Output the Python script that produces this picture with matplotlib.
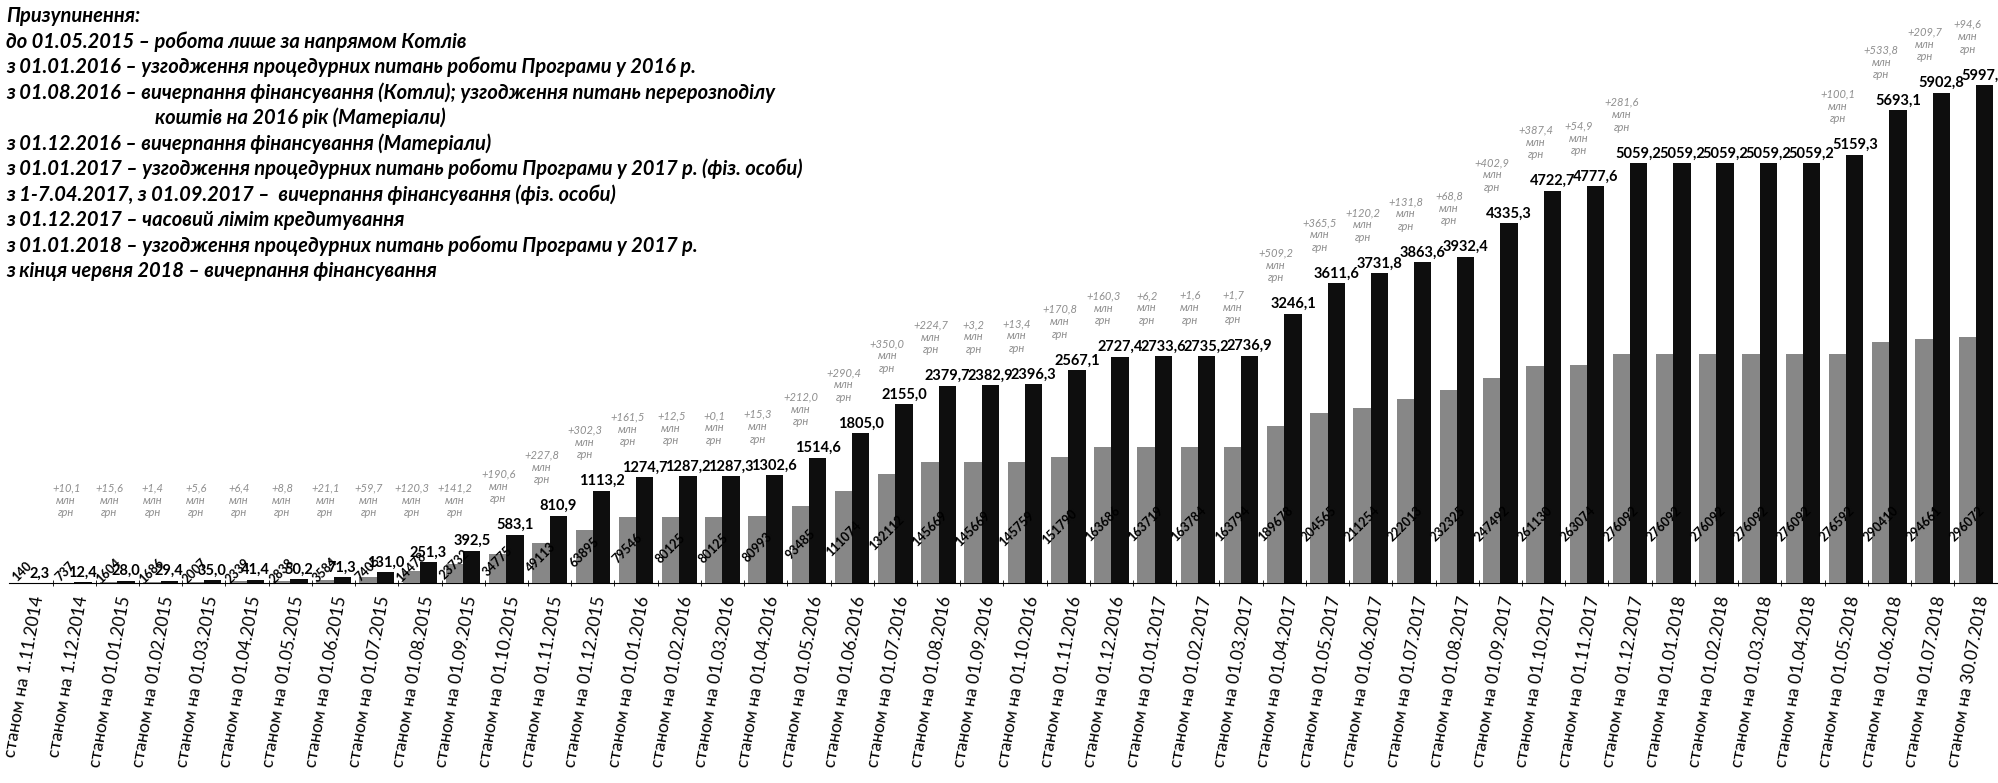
import matplotlib.pyplot as plt
import numpy as np

plt.rcParams['font.family'] = ['Lato', 'DejaVu Sans']

dates = [
    'станом на 1.11.2014', 'станом на 1.12.2014', 'станом на 01.01.2015',
    'станом на 01.02.2015', 'станом на 01.03.2015', 'станом на 01.04.2015',
    'станом на 01.05.2015', 'станом на 01.06.2015', 'станом на 01.07.2015',
    'станом на 01.08.2015', 'станом на 01.09.2015', 'станом на 01.10.2015',
    'станом на 01.11.2015', 'станом на 01.12.2015', 'станом на 01.01.2016',
    'станом на 01.02.2016', 'станом на 01.03.2016', 'станом на 01.04.2016',
    'станом на 01.05.2016', 'станом на 01.06.2016', 'станом на 01.07.2016',
    'станом на 01.08.2016', 'станом на 01.09.2016', 'станом на 01.10.2016',
    'станом на 01.11.2016', 'станом на 01.12.2016', 'станом на 01.01.2017',
    'станом на 01.02.2017', 'станом на 01.03.2017', 'станом на 01.04.2017',
    'станом на 01.05.2017', 'станом на 01.06.2017', 'станом на 01.07.2017',
    'станом на 01.08.2017', 'станом на 01.09.2017', 'станом на 01.10.2017',
    'станом на 01.11.2017', 'станом на 01.12.2017', 'станом на 01.01.2018',
    'станом на 01.02.2018', 'станом на 01.03.2018', 'станом на 01.04.2018',
    'станом на 01.05.2018', 'станом на 01.06.2018', 'станом на 01.07.2018',
    'станом на 30.07.2018',
]

# сума, млн грн (чорні стовпці)
amount = [
    2.3, 12.4, 28.0, 29.4, 35.0, 41.4, 50.2, 71.3, 131.0, 251.3,
    392.5, 583.1, 810.9, 1113.2, 1274.7, 1287.2, 1287.3, 1302.6, 1514.6, 1805.0,
    2155.0, 2379.7, 2382.9, 2396.3, 2567.1, 2727.4, 2733.6, 2735.2, 2736.9, 3246.1,
    3611.6, 3731.8, 3863.6, 3932.4, 4335.3, 4722.7, 4777.6, 5059.2, 5059.2, 5059.2,
    5059.2, 5059.2, 5159.3, 5693.1, 5902.8, 5997.4,
]

# кількість (сірі стовпці)
count = [
    140, 737, 1604, 1686, 2007, 2339, 2838, 3584, 7405, 14478,
    23732, 34775, 49113, 63895, 79546, 80125, 80125, 80993, 93485, 111074,
    132112, 145669, 145669, 145759, 151790, 163686, 163719, 163784, 163794, 189678,
    204565, 211254, 222013, 232325, 247492, 261130, 263074, 276092, 276092, 276092,
    276092, 276092, 276592, 290410, 294661, 296072,
]

notes = [
    'Призупинення:',
    'до 01.05.2015 – робота лише за напрямом Котлів',
    'з 01.01.2016 – узгодження процедурних питань роботи Програми у 2016 р.',
    'з 01.08.2016 – вичерпання фінансування (Котли); узгодження питань перерозподілу',
    'коштів на 2016 рік (Матеріали)',
    'з 01.12.2016 – вичерпання фінансування (Матеріали)',
    'з 01.01.2017 – узгодження процедурних питань роботи Програми у 2017 р. (фіз. особи)',
    'з 1-7.04.2017, з 01.09.2017 –  вичерпання фінансування (фіз. особи)',
    'з 01.12.2017 – часовий ліміт кредитування',
    'з 01.01.2018 – узгодження процедурних питань роботи Програми у 2017 р.',
    'з кінця червня 2018 – вичерпання фінансування',
]


def fmt(v):
    return f'{v:.1f}'.replace('.', ',')


W, H = 1998, 783
fig = plt.figure(figsize=(W / 100, H / 100), dpi=100)
ax_h = 0.732
ax = fig.add_axes([0.0047, 0.255, 0.995, ax_h])
ax2 = ax.twinx()

x = np.arange(len(dates))
w = 0.4
ymax = 6900
ratio = 100
ax.set_ylim(0, ymax)
ax2.set_ylim(0, ymax * ratio)
ax.set_xlim(-0.5, len(dates) - 0.5)

ax2.bar(x - w / 2, count, w, color='#878787')
ax.bar(x + w / 2, amount, w, color='#0e0e0e')

for i, v in enumerate(amount):
    ax.annotate(fmt(v), (i + w / 2, v), xytext=(0, 2), textcoords='offset points',
                ha='center', va='bottom', fontsize=10.5, fontweight='bold')

# приріст за місяць
diffs = np.diff(amount)
for i, d in enumerate(diffs, start=1):
    if d > 0.05:
        ax.annotate('+' + fmt(d) + '\nмлн\nгрн', (i + w / 2, max(amount[i], 420)),
                    xytext=(-12, 22), textcoords='offset points',
                    ha='center', va='bottom', fontsize=8, style='italic',
                    color='#8f8f8f', linespacing=1.15)

# висота сірого стовпця в пікселях -> положення підпису
px_per_unit = ax_h * H / (ymax * ratio)
for i, c in enumerate(count):
    off = min(0.35 * c * px_per_unit + 12, 60) / 1.389
    ax2.annotate(str(c), (i - w / 2, 0), xytext=(0, off), textcoords='offset points',
                 rotation=45, ha='center', va='center',
                 fontsize=9, fontweight='bold')

for a in (ax, ax2):
    for s in ('top', 'right', 'left'):
        a.spines[s].set_visible(False)
    a.set_yticks([])
ax2.spines['bottom'].set_visible(False)

ax.set_xticks(x)
ax.set_xticklabels(dates, rotation=80, ha='right', va='top',
                   rotation_mode='anchor', fontsize=12.5)
ax.set_xticks(x[:-1] + 0.5, minor=True)
ax.tick_params(axis='x', which='major', length=0, pad=8)
ax.tick_params(axis='x', which='minor', length=5, direction='inout')

for k, line in enumerate(notes):
    xpos = 155 / W if k == 4 else 6 / W
    fig.text(xpos, 1 - (16 + k * 25.5) / H, line, ha='left', va='center',
             fontsize=14.5, style='italic', fontweight='bold')

fig.savefig('out.png', dpi=100)
